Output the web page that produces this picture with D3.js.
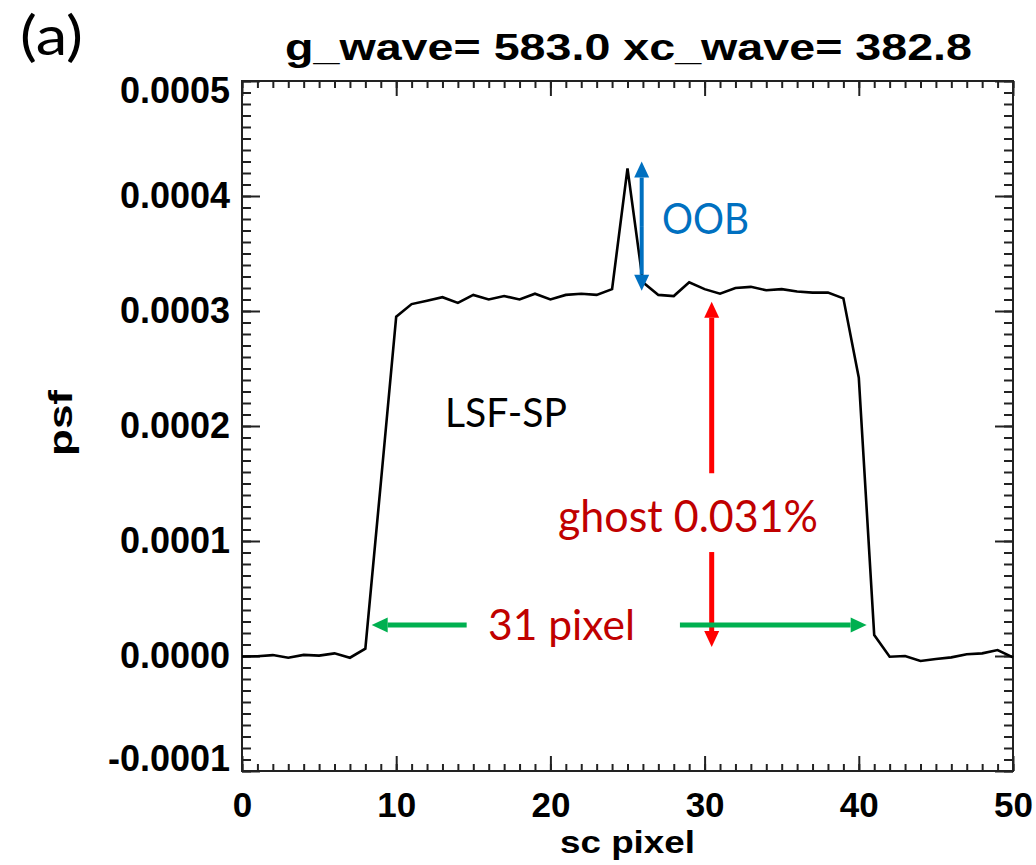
<!DOCTYPE html>
<html>
<head>
<meta charset="utf-8">
<script src="https://cdn.jsdelivr.net/npm/d3@7"></script>
<style>
  html, body { margin: 0; padding: 0; background: #ffffff; }
  svg { display: block; }
  .axis path, .axis line { stroke: #222; stroke-width: 2px; }
  .axis text { font-family: "Liberation Sans", Arial, sans-serif; font-weight: bold; font-size: 35px; fill: #000; }
  .yaxis text { font-size: 36px; }
</style>
</head>
<body>
<script>
// ---- data ----
const scPixel = d3.range(0, 51);
const psf = [
  -0.0000005, -0.0000002, 0.0000008, -0.0000015, 0.0000010, 0.0000003, 0.0000023, -0.0000015, 0.0000064, 0.000150,
  0.000295, 0.000306, 0.000309, 0.000312, 0.000307, 0.000314, 0.000310, 0.000313, 0.000310, 0.000315,
  0.000310, 0.000314, 0.000315, 0.000314, 0.000319, 0.000424, 0.000325, 0.000314, 0.000313, 0.000325,
  0.000319, 0.000315, 0.000320, 0.000321, 0.000318, 0.000319, 0.000317, 0.000316, 0.000316, 0.000311,
  0.000242, 0.0000183, -0.0000006, 0.0000000, -0.0000043, -0.0000026, -0.0000012, 0.0000015, 0.0000023, 0.0000052,
  -0.0000012
];
const xMajorTicks = [0, 10, 20, 30, 40, 50];
const xMinorTicks = d3.range(0, 51, 1);
const yMajorTicks = [-0.0001, 0.0000, 0.0001, 0.0002, 0.0003, 0.0004, 0.0005];
const yMinorTicks = d3.range(-100, 501, 10).map(v => v * 1e-6);
const titleText = "g_wave= 583.0 xc_wave= 382.8";
const xLabel = "sc pixel";
const yLabel = "psf";

// ---- layout ----
const W = 1036, H = 865;
const L = 242, R = 1013, T = 81, B = 771;

const svg = d3.select("body").append("svg").attr("width", W).attr("height", H);

const x = d3.scaleLinear().domain([0, 50]).range([L, R]);
const y = d3.scaleLinear().domain([-0.0001, 0.0005]).range([B, T]);

// frame
svg.append("rect").attr("x", L).attr("y", T).attr("width", R - L).attr("height", B - T)
  .attr("fill", "none").attr("stroke", "#222").attr("stroke-width", 2);

// minor ticks
svg.append("g").attr("class", "axis").attr("transform", `translate(0,${B})`)
  .call(d3.axisBottom(x).tickValues(xMinorTicks).tickSize(-7).tickFormat(""))
  .call(g => g.select(".domain").remove());
svg.append("g").attr("class", "axis").attr("transform", `translate(0,${T})`)
  .call(d3.axisTop(x).tickValues(xMinorTicks).tickSize(-7).tickFormat(""))
  .call(g => g.select(".domain").remove());
svg.append("g").attr("class", "axis").attr("transform", `translate(${L},0)`)
  .call(d3.axisLeft(y).tickValues(yMinorTicks).tickSize(-9).tickFormat(""))
  .call(g => g.select(".domain").remove());
svg.append("g").attr("class", "axis").attr("transform", `translate(${R},0)`)
  .call(d3.axisRight(y).tickValues(yMinorTicks).tickSize(-9).tickFormat(""))
  .call(g => g.select(".domain").remove());

// major ticks
svg.append("g").attr("class", "axis").attr("transform", `translate(0,${B})`)
  .call(d3.axisBottom(x).tickValues(xMajorTicks).tickSize(-15).tickPadding(21).tickFormat(d3.format("d")))
  .call(g => g.select(".domain").remove());
svg.append("g").attr("class", "axis").attr("transform", `translate(0,${T})`)
  .call(d3.axisTop(x).tickValues(xMajorTicks).tickSize(-15).tickFormat(""))
  .call(g => g.select(".domain").remove());
const fmtY = d => d3.format(".4f")(d).replace("\u2212", "-");
const yAx = svg.append("g").attr("class", "axis yaxis").attr("transform", `translate(${L},0)`)
  .call(d3.axisLeft(y).tickValues(yMajorTicks).tickSize(-18).tickPadding(12).tickFormat(fmtY))
  .call(g => g.select(".domain").remove());
// IDL keeps the end labels inside the frame
yAx.selectAll(".tick text").attr("transform", d => {
  const py = y(d);
  const c = Math.min(Math.max(py, T + 10), B - 12);
  return `translate(0,${c - py})`;
});
svg.append("g").attr("class", "axis").attr("transform", `translate(${R},0)`)
  .call(d3.axisRight(y).tickValues(yMajorTicks).tickSize(-18).tickFormat(""))
  .call(g => g.select(".domain").remove());

// data line
svg.append("path")
  .datum(scPixel.map((d, i) => [d, psf[i]]))
  .attr("fill", "none").attr("stroke", "#000").attr("stroke-width", 2.6)
  .attr("stroke-linejoin", "miter")
  .attr("d", d3.line().x(d => x(d[0])).y(d => y(d[1])));

// titles
svg.append("text").attr("x", 285).attr("y", 60)
  .attr("font-family", "Liberation Sans, Arial, sans-serif").attr("font-weight", "bold")
  .attr("font-size", 37).attr("textLength", 687).attr("lengthAdjust", "spacingAndGlyphs")
  .text(titleText);
svg.append("text").attr("x", (L + R) / 2 - 67.5).attr("y", 853)
  .attr("font-family", "Liberation Sans, Arial, sans-serif").attr("font-weight", "bold")
  .attr("font-size", 31).attr("textLength", 135).attr("lengthAdjust", "spacingAndGlyphs")
  .text(xLabel);
svg.append("text").attr("transform", "translate(72,456) rotate(-90)")
  .attr("font-family", "Liberation Sans, Arial, sans-serif").attr("font-weight", "bold")
  .attr("font-size", 34).attr("textLength", 66).attr("lengthAdjust", "spacingAndGlyphs")
  .text(yLabel);

// panel label
svg.append("text").attr("x", 20).attr("y", 55)
  .attr("font-family", "Lato, 'Open Sans', sans-serif").attr("font-size", 54)
  .attr("textLength", 63).attr("lengthAdjust", "spacingAndGlyphs")
  .text("(a)");

// ---- annotations ----
function arrow(x1, y1, x2, y2, color, w, headW, headL) {
  const dx = x2 - x1, dy = y2 - y1, len = Math.hypot(dx, dy);
  const ux = dx / len, uy = dy / len;
  const bx = x2 - ux * headL, by = y2 - uy * headL;
  svg.append("line").attr("x1", x1).attr("y1", y1).attr("x2", bx).attr("y2", by)
    .attr("stroke", color).attr("stroke-width", w);
  const px = -uy, py = ux;
  svg.append("path")
    .attr("d", `M${x2},${y2} L${bx + px * headW / 2},${by + py * headW / 2} L${bx - px * headW / 2},${by - py * headW / 2} Z`)
    .attr("fill", color);
}
const blue = "#0070C0", red = "#FF0000", darkRed = "#C00000", green = "#00B050";

// OOB double arrow
const xb = x(25.92);
arrow(xb, (y(0.000430) + y(0.0003177)) / 2, xb, y(0.000430), blue, 4, 15, 16);
arrow(xb, (y(0.000430) + y(0.0003177)) / 2, xb, y(0.0003177), blue, 4, 15, 16);

// ghost arrows
const xr = x(30.46);
arrow(xr, y(0.000159), xr, y(0.000308), red, 5, 15, 16);
arrow(xr, y(0.0000904), xr, y(0.0000078), red, 5, 15, 16);

// 31 pixel arrows
const yg = y(0.000027);
arrow(x(14.57), yg, x(8.41), yg, green, 5, 15, 16);
arrow(x(28.4), yg, x(40.51), yg, green, 5, 15, 16);

function label(txt, px, py, size, len, color) {
  svg.append("text").attr("x", px).attr("y", py)
    .attr("font-family", "Lato, 'Open Sans', sans-serif").attr("font-size", size)
    .attr("textLength", len).attr("lengthAdjust", "spacingAndGlyphs")
    .attr("fill", color).text(txt);
}
label("OOB", 662, 234, 43, 87, blue);
label("LSF-SP", 445, 427, 40, 122, "#000");
label("ghost 0.031%", 558, 532, 44, 260, darkRed);
label("31 pixel", 488, 640, 42, 147, darkRed);
</script>
</body>
</html>
